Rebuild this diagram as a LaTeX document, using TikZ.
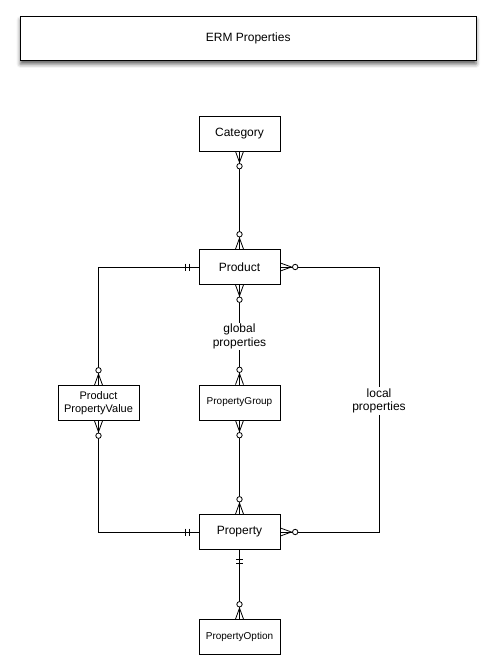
\documentclass[tikz,border=0pt]{standalone}
\usepackage{fontspec}
\setmainfont{Liberation Sans}
\usetikzlibrary{shadows.blur}
\begin{document}
\begin{tikzpicture}[x=1pt,y=1pt, line width=0.8pt,
  ent/.style={draw, line width=0.8pt, minimum width=81pt, minimum height=35pt, inner sep=0pt, align=center, fill=white},
  lbl/.style={inner sep=1.2pt, align=center, font=\fontsize{12}{13.5}\selectfont},
  conn/.style={draw, line width=0.7pt},
  zeromany/.pic={\draw (0,-4) -- (11,0) -- (0,4); \draw (0,0) -- (11,0); \draw[fill=white] (14.8,0) circle (2.7);},
  onlyone/.pic={\draw (9,-3.5) -- (9,3.5); \draw (13.5,-3.5) -- (13.5,3.5);}
]
\useasboundingbox (0,0) rectangle (496,-666);
\node[draw, minimum width=455.5pt, minimum height=44pt, fill=white,
  blur shadow={shadow xshift=0pt, shadow yshift=-4pt, shadow blur radius=4pt, shadow opacity=65},
  font=\fontsize{12}{14}\selectfont] (title) at (248.25,-38) {ERM Properties};

\node[ent, font=\fontsize{12}{14}\selectfont] (cat) at (239.5,-133.5) {Category};
\node[ent, font=\fontsize{12}{14}\selectfont] (prod) at (239.5,-267) {Product};
\node[ent, font=\fontsize{10}{12}\selectfont] (pg) at (239.5,-402.5) {PropertyGroup};
\node[ent, font=\fontsize{11}{13}\selectfont] (ppv) at (98.5,-403) {Product\\PropertyValue};
\node[ent, font=\fontsize{12}{14}\selectfont] (prop) at (239.5,-532) {Property};
\node[ent, font=\fontsize{10}{12}\selectfont] (opt) at (239.5,-637) {PropertyOption};

\node[lbl] (glob) at (239.5,-336.5) {global\\properties};
\node[lbl] (loc) at (379,-401) {local\\properties};

\path[conn] (cat.south) -- (prod.north);
\path[conn] (prod.south) -- (glob.north);
\path[conn] (glob.south) -- (pg.north);
\path[conn] (pg.south) -- (prop.north);
\path[conn] (prod.west) -| (ppv.north);
\path[conn] (ppv.south) |- (prop.west);
\path[conn] (prod.east) -| (loc.north);
\path[conn] (loc.south) |- (prop.east);
\path[conn] (prop.south) -- (opt.north);

\pic[rotate=-90] at (cat.south) {zeromany};
\pic[rotate=90] at (prod.north) {zeromany};
\pic[rotate=-90] at (prod.south) {zeromany};
\pic[rotate=90] at (pg.north) {zeromany};
\pic[rotate=-90] at (pg.south) {zeromany};
\pic[rotate=90] at (prop.north) {zeromany};
\pic[rotate=180] at (prod.west) {onlyone};
\pic[rotate=90] at (ppv.north) {zeromany};
\pic[rotate=-90] at (ppv.south) {zeromany};
\pic[rotate=180] at (prop.west) {onlyone};
\pic at (prod.east) {zeromany};
\pic at (prop.east) {zeromany};
\pic[rotate=-90] at (prop.south) {onlyone};
\pic[rotate=90] at (opt.north) {zeromany};
\end{tikzpicture}
\end{document}
